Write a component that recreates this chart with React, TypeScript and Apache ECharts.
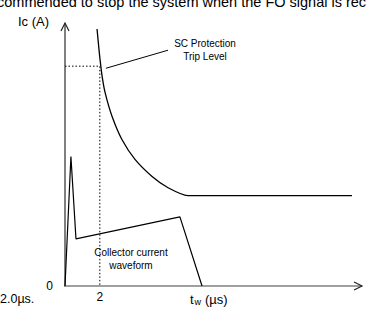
import React, { useEffect, useRef } from "react";
import * as echarts from "echarts";

// Collector current waveform (t in µs, Ic in arbitrary units)
const waveT = [0, 0.34, 0.63, 6.6, 7.87];
const waveI = [0, 4.94, 1.8, 2.64, 0];

// SC protection trip level curve
const tripT = [1.84, 1.95, 2.01, 2.13, 2.3, 2.7, 3.27, 4.02, 5.0, 5.92, 7.06, 8.0, 16.48];
const tripI = [9.81, 9.04, 8.66, 8.01, 7.39, 6.48, 5.59, 4.83, 4.18, 3.75, 3.45, 3.45, 3.45];

// dotted guide to the trip point at t = 2 µs
const guideT = [0, 2, 2];
const guideI = [8.39, 8.39, 0];

// annotation arrow (tail -> tip)
const arrowFrom = [5.92, 9.0];
const arrowTo = [2.35, 8.31];

const xMax = 17;
const yMax = 10;
const xTickLabels = ["2"];
const yTickLabels = ["0"];

const FONT = "Liberation Sans, Arial, sans-serif";

export default function App() {
  const ref = useRef<HTMLDivElement>(null);
  useEffect(() => {
    if (!ref.current) return;
    const chart = echarts.init(ref.current, undefined, { renderer: "svg" });
    const zip = (a: number[], b: number[]) => a.map((v, i) => [v, b[i]]);
    chart.setOption({
      animation: false,
      backgroundColor: "#ffffff",
      grid: { left: 65, right: 6, top: 24, bottom: 30 },
      xAxis: {
        type: "value",
        min: 0,
        max: xMax,
        interval: 2,
        splitLine: { show: false },
        axisTick: { show: false },
        axisLine: { onZero: false, lineStyle: { color: "#808080", width: 1.6 } },
        axisLabel: {
          margin: 5,
          color: "#000",
          fontFamily: FONT,
          fontSize: 12,
          showMaxLabel: false,
          formatter: (v: number) => (xTickLabels.includes(String(v)) ? String(v) : ""),
        },
      },
      yAxis: {
        type: "value",
        min: 0,
        max: yMax,
        interval: 10,
        splitLine: { show: false },
        axisTick: { show: false },
        axisLine: { show: true, onZero: false, lineStyle: { color: "#808080", width: 2 } },
        axisLabel: {
          margin: 12,
          color: "#000",
          fontFamily: FONT,
          fontSize: 12,
          formatter: (v: number) => (yTickLabels.includes(String(v)) ? String(v) : ""),
        },
      },
      graphic: [
        {
          type: "text",
          left: -3,
          top: -6,
          style: {
            text: "commended to stop the system when the FO signal is rec",
            font: `14.5px ${FONT}`,
            fill: "#000",
          },
        },
        {
          type: "text",
          left: 18,
          top: 15,
          style: { text: "Ic (A)", font: `13px ${FONT}`, fill: "#000" },
        },
        {
          type: "text",
          x: 205,
          y: 43,
          style: { text: "SC Protection", font: `10px ${FONT}`, fill: "#000", align: "center", verticalAlign: "middle" },
        },
        {
          type: "text",
          x: 205,
          y: 56,
          style: { text: "Trip Level", font: `10px ${FONT}`, fill: "#000", align: "center", verticalAlign: "middle" },
        },
        {
          type: "text",
          x: 131,
          y: 252,
          style: { text: "Collector current", font: `10px ${FONT}`, fill: "#000", align: "center", verticalAlign: "middle" },
        },
        {
          type: "text",
          x: 131,
          y: 265,
          style: { text: "waveform", font: `10px ${FONT}`, fill: "#000", align: "center", verticalAlign: "middle" },
        },
        {
          type: "text",
          x: 0,
          y: 299,
          style: { text: "2.0µs.", font: `12.5px ${FONT}`, fill: "#000", verticalAlign: "middle" },
        },
        {
          type: "text",
          x: 190,
          y: 299,
          style: { text: "t", font: `13px ${FONT}`, fill: "#000", verticalAlign: "middle" },
        },
        {
          type: "text",
          x: 194.5,
          y: 301.5,
          style: { text: "w", font: `9px ${FONT}`, fill: "#000", verticalAlign: "middle" },
        },
        {
          type: "text",
          x: 205,
          y: 299,
          style: { text: "(µs)", font: `13px ${FONT}`, fill: "#000", verticalAlign: "middle" },
        },
      ],
      series: [
        {
          type: "line",
          data: zip(guideT, guideI),
          symbol: "none",
          lineStyle: { color: "#000", width: 1, type: [1.5, 2] },
          z: 1,
        },
        {
          type: "line",
          data: zip(tripT, tripI),
          symbol: "none",
          smooth: 0.25,
          lineStyle: { color: "#000", width: 1.3 },
          markLine: {
            silent: true,
            symbol: ["none", "arrow"],
            symbolSize: [0, 7],
            label: { show: false },
            lineStyle: { color: "#000", width: 1, type: "solid" },
            data: [[{ coord: arrowFrom }, { coord: arrowTo }]],
          },
          z: 3,
        },
        {
          type: "line",
          data: zip(waveT, waveI),
          symbol: "none",
          lineStyle: { color: "#000", width: 1.2 },
          z: 3,
        },
        {
          type: "custom",
          data: [
            [0, yMax, 0],
            [xMax, 0, 1],
          ],
          clip: false,
          z: 5,
          renderItem: (params: any, api: any) => {
            const p = api.coord([api.value(0), api.value(1)]);
            const dir = api.value(2);
            const pts =
              dir === 0
                ? [
                    [p[0] - 4, p[1] + 7],
                    [p[0], p[1] - 1],
                    [p[0] + 4, p[1] + 7],
                  ]
                : [
                    [p[0] - 7, p[1] - 4],
                    [p[0] + 1, p[1]],
                    [p[0] - 7, p[1] + 4],
                  ];
            return {
              type: "polyline",
              shape: { points: pts },
              style: { stroke: "#222", fill: "none", lineWidth: 1.2 },
            };
          },
        },
      ],
    });
    return () => chart.dispose();
  }, []);
  return (
    <div
      ref={ref}
      style={{ position: "absolute", left: 0, top: 0, width: 367, height: 316 }}
    />
  );
}
